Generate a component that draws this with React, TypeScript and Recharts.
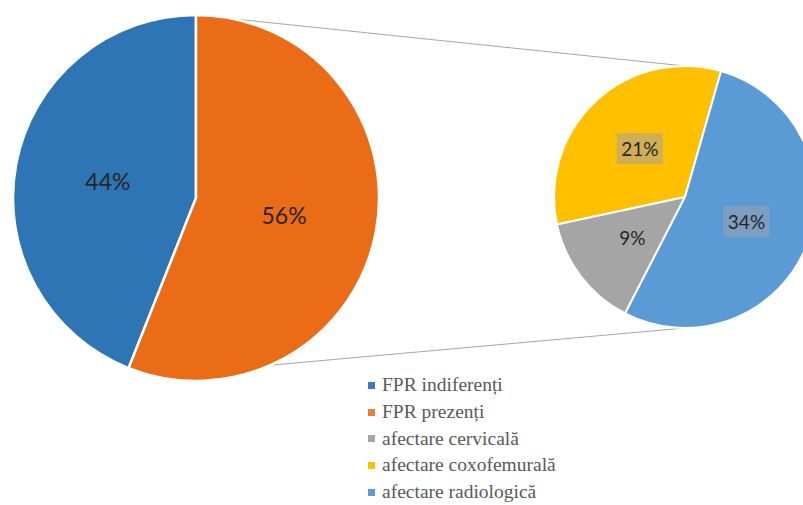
import React from 'react';
import { PieChart, Pie, Cell, Legend, Customized } from 'recharts';

// main pie
const mainNames = ['FPR indiferenți', 'FPR prezenți'];
const mainValues = [44, 56];

// secondary pie (breakdown)
const subNames = ['afectare coxofemurală', 'afectare cervicală', 'afectare radiologică'];
const subValues = [21, 9, 34];

// legend order as in the original
const legendNames = [
  'FPR indiferenți',
  'FPR prezenți',
  'afectare cervicală',
  'afectare coxofemurală',
  'afectare radiologică',
];

const mainColors = ['#2E75B6', '#EA6C16'];
const subColors = ['#FFC000', '#A5A5A5', '#5B9BD5'];
const subBoxColors = ['#CFAE55', null, '#7E9EBF'];
const legendColors = ['#4472C4', '#ED7D31', '#A5A5A5', '#FFC000', '#5B9BD5'];

const mainData = mainNames.map((name, i) => ({ name, value: mainValues[i] }));
const subData = subNames.map((name, i) => ({ name, value: subValues[i] }));

const MAIN = { cx: 196, cy: 198, r: 183 };
const SUB = { cx: 685, cy: 197, r: 131 };
const RADIAN = Math.PI / 180;
const LABEL_FONT = 'Lato, "Open Sans", sans-serif';

const renderMainLabel = (props) => {
  const { cx, cy, midAngle, outerRadius, value } = props;
  const r = outerRadius * 0.49;
  const x = cx + r * Math.cos(-midAngle * RADIAN);
  const y = cy + r * Math.sin(-midAngle * RADIAN);
  return (
    <text x={x} y={y} textAnchor="middle" dominantBaseline="central" fill="#262626" fontSize={23} fontFamily={LABEL_FONT}>
      {`${value}%`}
    </text>
  );
};

const renderSubLabel = (props) => {
  const { cx, cy, midAngle, outerRadius, value, index } = props;
  const r = outerRadius * 0.505;
  const x = cx + r * Math.cos(-midAngle * RADIAN);
  const y = cy + r * Math.sin(-midAngle * RADIAN);
  const box = subBoxColors[index];
  return (
    <g>
      {box && <rect x={x - 23} y={y - 15.5} width={46} height={31} fill={box} />}
      <text x={x} y={y} textAnchor="middle" dominantBaseline="central" fill="#262626" fontSize={19} fontFamily={LABEL_FONT}>
        {`${value}%`}
      </text>
    </g>
  );
};

// lines joining the main pie to the breakdown pie
const Connectors = () => {
  const topA = 90 * RADIAN;
  const botA = -66 * RADIAN;
  const x1 = MAIN.cx + MAIN.r * Math.cos(topA);
  const y1 = MAIN.cy - MAIN.r * Math.sin(topA);
  const x2 = MAIN.cx + MAIN.r * Math.cos(botA);
  const y2 = MAIN.cy - MAIN.r * Math.sin(botA);
  return (
    <g>
      <line x1={x1} y1={y1} x2={SUB.cx} y2={SUB.cy - SUB.r} stroke="#A6A6A6" strokeWidth={1} />
      <line x1={x2} y1={y2} x2={SUB.cx} y2={SUB.cy + SUB.r} stroke="#A6A6A6" strokeWidth={1} />
    </g>
  );
};

const renderLegend = () => (
  <div style={{ fontFamily: '"Liberation Serif", "Times New Roman", serif', fontSize: 19.5, color: '#595959' }}>
    {legendNames.map((name, i) => (
      <div key={name} style={{ display: 'flex', alignItems: 'center', height: 26.7, whiteSpace: 'nowrap' }}>
        <span style={{ display: 'inline-block', width: 7, height: 7, background: legendColors[i], marginRight: 7 }} />
        <span>{name}</span>
      </div>
    ))}
  </div>
);

export default function App() {
  return (
    <div style={{ position: 'absolute', left: 0, top: 0 }}>
      <PieChart width={803} height={505} margin={{ top: 0, right: 0, bottom: 0, left: 0 }}>
        <Customized component={Connectors} />
        <Pie
          data={mainData}
          dataKey="value"
          cx={MAIN.cx}
          cy={MAIN.cy}
          outerRadius={MAIN.r}
          startAngle={90}
          endAngle={450}
          stroke="#FFFFFF"
          strokeWidth={2.5}
          label={renderMainLabel}
          labelLine={false}
          isAnimationActive={false}
        >
          {mainData.map((d, i) => (
            <Cell key={d.name} fill={mainColors[i]} />
          ))}
        </Pie>
        <Pie
          data={subData}
          dataKey="value"
          cx={SUB.cx}
          cy={SUB.cy}
          outerRadius={SUB.r}
          startAngle={74}
          endAngle={434}
          stroke="#FFFFFF"
          strokeWidth={2}
          label={renderSubLabel}
          labelLine={false}
          isAnimationActive={false}
        >
          {subData.map((d, i) => (
            <Cell key={d.name} fill={subColors[i]} />
          ))}
        </Pie>
        <Legend
          layout="vertical"
          verticalAlign="bottom"
          align="center"
          content={renderLegend}
          wrapperStyle={{ left: 368, top: 372, bottom: 'auto', width: 300 }}
        />
      </PieChart>
    </div>
  );
}
